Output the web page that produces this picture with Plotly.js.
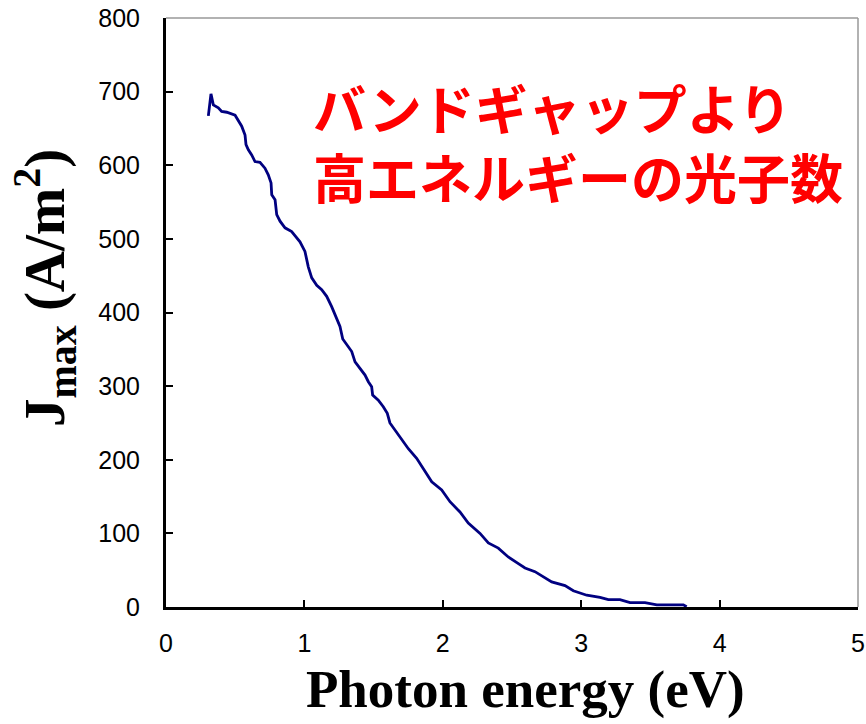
<!DOCTYPE html>
<html>
<head>
<meta charset="utf-8">
<script src="https://cdn.plot.ly/plotly-3.0.1.min.js"></script>
<style>html,body{margin:0;padding:0;background:#fff;}#chart{width:866px;height:724px;}</style>
</head>
<body>
<div id="chart"></div>
<script>
// Photon energy (eV)
const energy = [0.306, 0.325, 0.342, 0.378, 0.402, 0.439, 0.499, 0.530, 0.547, 0.571, 0.578, 0.595, 0.619, 0.643, 0.679, 0.715, 0.739, 0.759, 0.764, 0.788, 0.800, 0.824, 0.860, 0.908, 0.932, 0.968, 1.004, 1.028, 1.053, 1.089, 1.125, 1.161, 1.197, 1.233, 1.257, 1.277, 1.306, 1.342, 1.366, 1.402, 1.438, 1.462, 1.486, 1.493, 1.534, 1.570, 1.599, 1.618, 1.655, 1.691, 1.751, 1.811, 1.859, 1.920, 1.992, 2.052, 2.124, 2.184, 2.269, 2.329, 2.401, 2.473, 2.546, 2.594, 2.666, 2.726, 2.787, 2.883, 2.943, 3.040, 3.136, 3.196, 3.280, 3.353, 3.461, 3.546, 3.738, 3.762];
// Jmax (A/m^2)
const jmax = [667, 697, 682, 678, 673, 672, 668, 659, 653, 641, 628, 621, 614, 605, 604, 596, 587, 576, 560, 553, 533, 524, 515, 510, 505, 496, 483, 462, 447, 437, 431, 422, 408, 392, 381, 364, 356, 347, 333, 324, 315, 306, 299, 288, 281, 272, 263, 250, 240, 231, 215, 202, 188, 170, 159, 143, 129, 114, 100, 87, 80, 68, 59, 53, 48, 41, 34, 29, 22, 16, 13, 10, 10, 6, 6, 3, 3, 0.4];

const xTickVals = [0, 1, 2, 3, 4, 5];
const yTickVals = [0, 100, 200, 300, 400, 500, 600, 700, 800];
const annotationText = 'バンドギャップより<br>高エネルギーの光子数';
const xTitle = 'Photon energy (eV)';
const yTitle = 'J<sub>max</sub> (A/m<sup>2</sup>)';

const trace = {
  x: energy, y: jmax, type: 'scatter', mode: 'lines',
  line: {color: '#000080', width: 2.8, shape: 'linear'},
  hoverinfo: 'skip', showlegend: false
};

const titleFont = {family: 'Liberation Serif, Times New Roman', color: '#000', weight: 'bold'};

const layout = {
  width: 866, height: 724,
  margin: {l: 166, r: 8, t: 18, b: 117, pad: 0},
  paper_bgcolor: '#ffffff', plot_bgcolor: '#ffffff',
  xaxis: {
    range: [0, 5], tickvals: xTickVals, ticktext: xTickVals.map(String),
    showgrid: false, zeroline: false, showline: true, linecolor: '#000', linewidth: 3,
    ticks: 'inside', ticklen: 7, tickwidth: 2, tickcolor: '#000',
    tickfont: {family: 'Liberation Sans, Arial', size: 25, color: '#000'},
    ticklabelstandoff: 12,
    automargin: false
  },
  yaxis: {
    range: [0, 800], tickvals: yTickVals, ticktext: yTickVals.map(String),
    showgrid: false, zeroline: false, showline: true, linecolor: '#000', linewidth: 3,
    ticks: 'inside', ticklen: 7, tickwidth: 2, tickcolor: '#000',
    tickfont: {family: 'Liberation Sans, Arial', size: 25, color: '#000'},
    ticklabelstandoff: 18,
    automargin: false
  },
  shapes: [
    {type: 'line', xref: 'paper', yref: 'paper', x0: 0, x1: 1, y0: 1, y1: 1, line: {color: '#999', width: 1.5}, layer: 'below'},
    {type: 'line', xref: 'paper', yref: 'paper', x0: 1, x1: 1, y0: 0, y1: 1, line: {color: '#999', width: 1.5}, layer: 'below'}
  ],
  annotations: [
    {
      text: annotationText, xref: 'paper', yref: 'paper', x: 0.210, y: 0.790,
      xanchor: 'left', yanchor: 'middle', align: 'left', showarrow: false,
      font: {family: 'Noto Sans CJK JP', size: 53, color: '#ff0000', weight: 'bold'}
    },
    {
      text: xTitle, xref: 'paper', yref: 'paper', x: 0.519, y: 0, yshift: -82,
      xanchor: 'center', yanchor: 'middle', showarrow: false,
      font: Object.assign({size: 53}, titleFont)
    },
    {
      text: yTitle, xref: 'paper', yref: 'paper', x: 0, xshift: -121, y: 0.5416,
      xanchor: 'center', yanchor: 'middle', textangle: -90, showarrow: false,
      font: Object.assign({size: 57}, titleFont)
    }
  ]
};

Plotly.newPlot('chart', [trace], layout, {displayModeBar: false, staticPlot: true});
</script>
</body>
</html>
